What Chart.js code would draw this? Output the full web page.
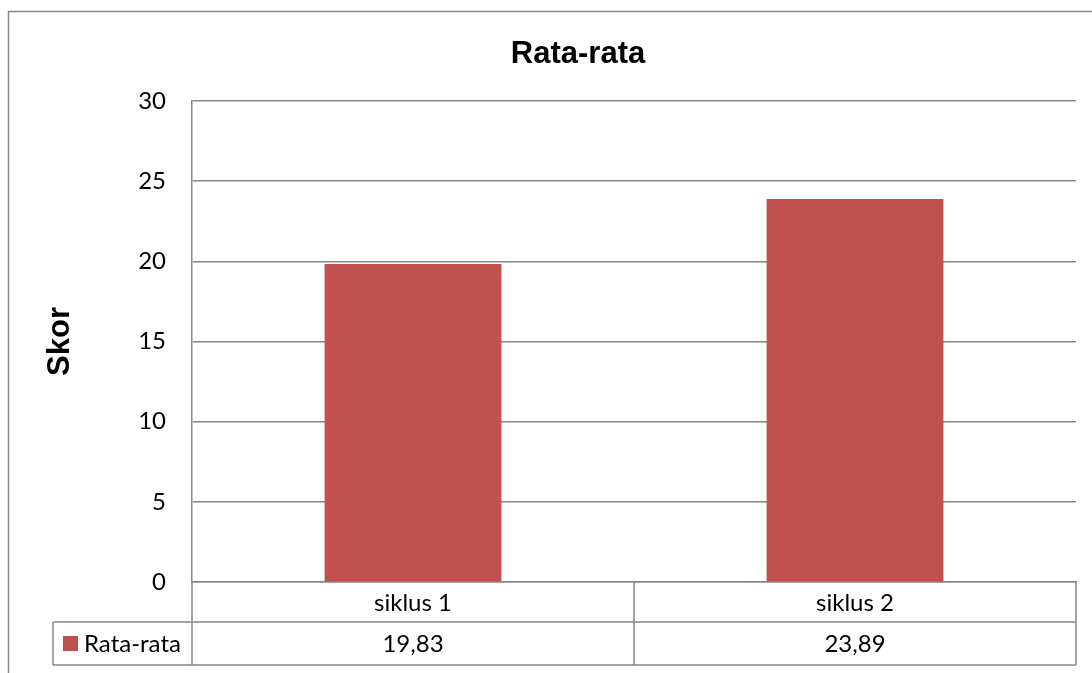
<!DOCTYPE html>
<html>
<head>
<meta charset="utf-8">
<title>Rata-rata</title>
<script src="https://cdn.jsdelivr.net/npm/chart.js@4/dist/chart.umd.min.js"></script>
<style>
  html, body { margin: 0; padding: 0; background: #fff; }
  #wrap { width: 1092px; height: 673px; position: relative; }
</style>
</head>
<body>
<div id="wrap"><canvas id="chart" width="1092" height="673"></canvas></div>
<script>
const categories = ["siklus 1", "siklus 2"];
const seriesName = "Rata-rata";
const values = [19.83, 23.89];
const chartTitle = "Rata-rata";
const yTitle = "Skor";
const yMin = 0;
const yMax = 30;
const yStep = 5;

const barColor = "#C0504D";
const lineColor = "#868686";
const bodyFont = "Lato, 'Open Sans', sans-serif";
const headFont = "'Liberation Sans', Arial, sans-serif";
const bodySize = 24;

function fmtValue(v) {
  return v.toFixed(2).replace(".", ",");
}

// outer frame + title, drawn like the Excel chart box
const frameTitlePlugin = {
  id: "frameTitle",
  beforeDraw(chart) {
    const ctx = chart.ctx;
    ctx.save();
    ctx.fillStyle = "#fff";
    ctx.fillRect(0, 0, chart.width, chart.height);
    ctx.strokeStyle = lineColor;
    ctx.lineWidth = 1.5;
    ctx.strokeRect(8.5, 11.5, chart.width + 50, chart.height + 50);
    ctx.restore();
  },
  afterDraw(chart) {
    const ctx = chart.ctx;
    ctx.save();
    ctx.fillStyle = "#000";
    ctx.font = "bold 31px " + headFont;
    ctx.textAlign = "center";
    ctx.textBaseline = "alphabetic";
    ctx.fillText(chartTitle, 578, 63);
    ctx.restore();
  },
};

// data table under the plot area
const dataTablePlugin = {
  id: "dataTable",
  afterDraw(chart) {
    const ctx = chart.ctx;
    const x = chart.scales.x;
    const top = chart.chartArea.bottom;
    const bottom = x.bottom;
    const mid = top + Math.round((bottom - top) * 0.48);
    const legendLeft = 53;

    const edges = [x.left];
    for (let i = 0; i < categories.length - 1; i++) {
      edges.push(Math.round((x.getPixelForValue(i) + x.getPixelForValue(i + 1)) / 2));
    }
    edges.push(x.right);

    ctx.save();
    ctx.strokeStyle = lineColor;
    ctx.lineWidth = 1.5;
    ctx.beginPath();
    // left axis continues down through the table
    ctx.moveTo(x.left, top);
    ctx.lineTo(x.left, bottom);
    // row lines
    ctx.moveTo(legendLeft, mid);
    ctx.lineTo(x.right, mid);
    ctx.moveTo(legendLeft, bottom);
    ctx.lineTo(x.right, bottom);
    ctx.moveTo(legendLeft, mid);
    ctx.lineTo(legendLeft, bottom);
    edges.slice(1).forEach((e) => {
      ctx.moveTo(e, top);
      ctx.lineTo(e, bottom);
    });
    ctx.stroke();

    ctx.fillStyle = "#000";
    ctx.font = bodySize + "px " + bodyFont;
    ctx.textAlign = "center";
    ctx.textBaseline = "middle";
    categories.forEach((c, i) => {
      const cx = x.getPixelForValue(i);
      ctx.fillText(c, cx, (top + mid) / 2 + 1);
      ctx.fillText(fmtValue(values[i]), cx, (mid + bottom) / 2 + 1);
    });

    // legend key in the first column
    const rowMid = (mid + bottom) / 2;
    ctx.fillStyle = barColor;
    ctx.fillRect(63, rowMid - 7.5, 15, 15);
    ctx.fillStyle = "#000";
    ctx.textAlign = "left";
    ctx.fillText(seriesName, 84, rowMid + 1);
    ctx.restore();
  },
};

new Chart(document.getElementById("chart").getContext("2d"), {
  type: "bar",
  data: {
    labels: categories,
    datasets: [{
      label: seriesName,
      data: values,
      backgroundColor: barColor,
      borderWidth: 0,
      barPercentage: 0.4,
      categoryPercentage: 1,
    }],
  },
  options: {
    responsive: false,
    animation: false,
    layout: { padding: { top: 101, right: 16, bottom: 8, left: 42 } },
    plugins: {
      legend: { display: false },
      tooltip: { enabled: false },
      title: { display: false },
    },
    scales: {
      x: {
        grid: { display: false, drawTicks: false },
        border: { display: true, color: lineColor, width: 1.5 },
        ticks: { display: false },
        afterFit(scale) { scale.height = 83; },
      },
      y: {
        min: yMin,
        max: yMax,
        ticks: {
          stepSize: yStep,
          padding: 26,
          color: "#000",
          font: { family: bodyFont, size: bodySize },
        },
        grid: { color: lineColor, lineWidth: 1.5, drawTicks: false },
        border: { display: true, color: lineColor, width: 1.5 },
        title: {
          display: true,
          text: yTitle,
          color: "#000",
          padding: 0,
          font: { family: headFont, size: 31, weight: "bold" },
        },
        afterFit(scale) { scale.width = 150; },
      },
    },
  },
  plugins: [frameTitlePlugin, dataTablePlugin],
});
</script>
</body>
</html>
